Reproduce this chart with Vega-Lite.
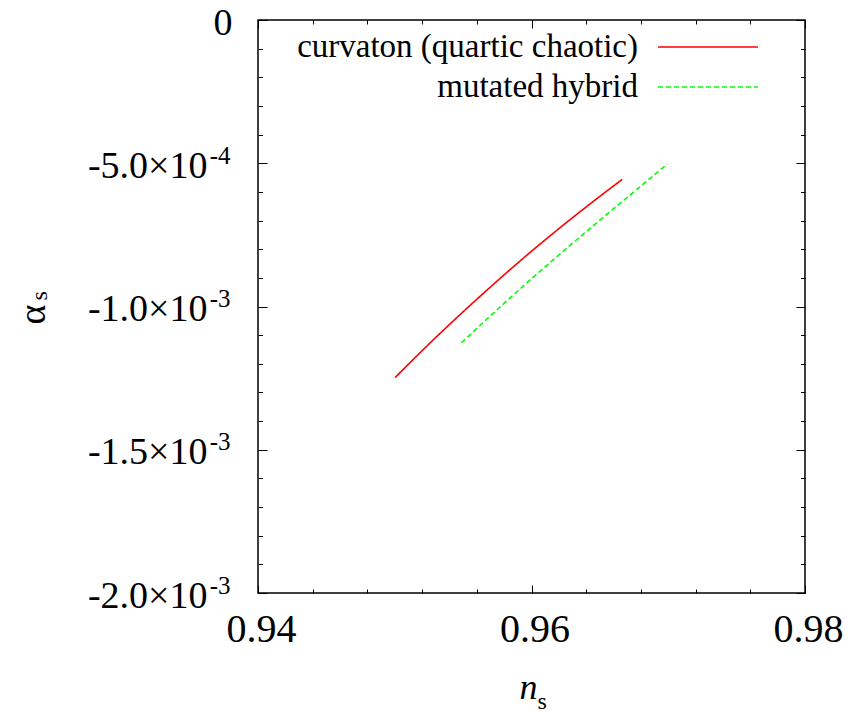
{
  "$schema": "https://vega.github.io/schema/vega-lite/v6.json",
  "width": 547,
  "height": 573,
  "autosize": {"type": "none"},
  "padding": {"left": 258, "top": 20, "right": 49, "bottom": 119},
  "background": "white",
  "config": {
    "view": {"stroke": "black", "strokeWidth": 1.5},
    "font": "Liberation Serif",
    "axis": {"grid": false, "domain": false, "tickColor": "black", "tickWidth": 1, "labelColor": "black", "titleColor": "black", "labelFont": "Liberation Serif", "titleFont": "Liberation Serif", "titleFontWeight": "normal", "labelFlush": false, "labelOverlap": false, "labelBound": false}
  },
  "datasets": {
    "curves": [
      {"model": "curvaton (quartic chaotic)", "ns": 0.95002, "alpha": -0.0012484},
      {"model": "curvaton (quartic chaotic)", "ns": 0.95233, "alpha": -0.0011389},
      {"model": "curvaton (quartic chaotic)", "ns": 0.95477, "alpha": -0.0010286},
      {"model": "curvaton (quartic chaotic)", "ns": 0.95721, "alpha": -0.00092286},
      {"model": "curvaton (quartic chaotic)", "ns": 0.95965, "alpha": -0.00082129},
      {"model": "curvaton (quartic chaotic)", "ns": 0.96208, "alpha": -0.00072518},
      {"model": "curvaton (quartic chaotic)", "ns": 0.96452, "alpha": -0.00063316},
      {"model": "curvaton (quartic chaotic)", "ns": 0.96664, "alpha": -0.00055613},
      {"model": "mutated hybrid", "ns": 0.95489, "alpha": -0.0011262},
      {"model": "mutated hybrid", "ns": 0.95745, "alpha": -0.0010126},
      {"model": "mutated hybrid", "ns": 0.95989, "alpha": -0.00090792},
      {"model": "mutated hybrid", "ns": 0.96233, "alpha": -0.0008067},
      {"model": "mutated hybrid", "ns": 0.96477, "alpha": -0.00070782},
      {"model": "mutated hybrid", "ns": 0.96745, "alpha": -0.00060157},
      {"model": "mutated hybrid", "ns": 0.96993, "alpha": -0.00050262}
    ]
  },
  "data": {"name": "curves"},
  "layer": [
    {
      "mark": {"type": "line", "strokeWidth": 1.6, "interpolate": "monotone"},
      "encoding": {
        "x": {
          "field": "ns", "type": "quantitative",
          "scale": {"domain": [0.94, 0.98], "nice": false, "zero": false},
          "axis": {
            "orient": "bottom",
            "values": [0.94, 0.944, 0.948, 0.952, 0.956, 0.96, 0.964, 0.968, 0.972, 0.976, 0.98],
            "labelExpr": "abs(datum.value-0.94)<1e-9 ? '0.94' : abs(datum.value-0.96)<1e-9 ? '0.96' : abs(datum.value-0.98)<1e-9 ? '0.98' : ''",
            "tickSize": {"condition": {"test": "abs(datum.value*50 - round(datum.value*50)) < 1e-6", "value": -8}, "value": -4},
            "labelFontSize": 40,
            "labelPadding": 24,
            "labelOffset": 3,
            "title": "n",
            "titleFontStyle": "italic",
            "titleFontSize": 36,
            "titleX": 270,
            "titleY": 105,
            "titleAlign": "center",
            "titleBaseline": "alphabetic"
          }
        },
        "y": {
          "field": "alpha", "type": "quantitative",
          "scale": {"domain": [-0.002, 0], "nice": false, "zero": false},
          "axis": {
            "orient": "left",
            "values": [0, -0.0001, -0.0002, -0.0003, -0.0004, -0.0005, -0.0006, -0.0007, -0.0008, -0.0009, -0.001, -0.0011, -0.0012, -0.0013, -0.0014, -0.0015, -0.0016, -0.0017, -0.0018, -0.0019, -0.002],
            "labelExpr": "abs(datum.value)<1e-9 ? '0' : abs(datum.value+0.0005)<1e-9 ? '-5.0×10' : abs(datum.value+0.001)<1e-9 ? '-1.0×10' : abs(datum.value+0.0015)<1e-9 ? '-1.5×10' : abs(datum.value+0.002)<1e-9 ? '-2.0×10' : ''",
            "tickSize": {"condition": {"test": "abs(datum.value*2000 - round(datum.value*2000)) < 1e-6", "value": -9}, "value": -4.5},
            "labelFontSize": 38,
            "labelPadding": {"condition": {"test": "abs(datum.value)<1e-9", "value": 35}, "value": 60},
            "labelOffset": 3,
            "labelAlign": "right",
            "labelBaseline": "middle",
            "title": "α",
            "titleFontSize": 38,
            "titleAngle": 270,
            "titleX": -214,
            "titleY": 294,
            "titleAlign": "center",
            "titleBaseline": "alphabetic"
          }
        },
        "color": {
          "field": "model", "type": "nominal",
          "scale": {"domain": ["curvaton (quartic chaotic)", "mutated hybrid"], "range": ["#ff0000", "#00ff00"]},
          "legend": {"title": null, "orient": "none", "legendX": 432.5, "legendY": 9.5, "symbolType": "M-3,0H3", "symbolSize": 1111.1, "symbolStrokeWidth": 1.5, "labelFont": "Liberation Serif", "labelFontSize": 33, "labelColor": "black", "labelAlign": "right", "labelOffset": -87.5, "labelLimit": 600, "rowPadding": 5, "padding": 0}
        },
        "strokeDash": {
          "field": "model", "type": "nominal",
          "scale": {"domain": ["curvaton (quartic chaotic)", "mutated hybrid"], "range": [[1, 0], [5, 3]]},
          "legend": {"title": null, "orient": "none", "legendX": 432.5, "legendY": 9.5, "symbolType": "M-3,0H3", "symbolSize": 1111.1, "symbolStrokeWidth": 1.5, "labelFont": "Liberation Serif", "labelFontSize": 33, "labelColor": "black", "labelAlign": "right", "labelOffset": -87.5, "labelLimit": 600, "rowPadding": 5, "padding": 0}
        }
      }
    },
    {
      "mark": {"type": "point", "opacity": 0},
      "encoding": {
        "x": {
          "field": "ns", "type": "quantitative",
          "axis": {
            "orient": "top",
            "values": [0.94, 0.944, 0.948, 0.952, 0.956, 0.96, 0.964, 0.968, 0.972, 0.976, 0.98],
            "labels": false,
            "tickSize": {"condition": {"test": "abs(datum.value*50 - round(datum.value*50)) < 1e-6", "value": -8}, "value": -4},
            "title": null
          }
        },
        "y": {
          "field": "alpha", "type": "quantitative",
          "axis": {
            "orient": "right",
            "values": [0, -0.0001, -0.0002, -0.0003, -0.0004, -0.0005, -0.0006, -0.0007, -0.0008, -0.0009, -0.001, -0.0011, -0.0012, -0.0013, -0.0014, -0.0015, -0.0016, -0.0017, -0.0018, -0.0019, -0.002],
            "labels": false,
            "tickSize": {"condition": {"test": "abs(datum.value*2000 - round(datum.value*2000)) < 1e-6", "value": -9}, "value": -4.5},
            "title": null
          }
        }
      }
    },
    {
      "mark": {"type": "point", "opacity": 0},
      "encoding": {
        "x": {
          "field": "ns", "type": "quantitative",
          "axis": {
            "orient": "bottom",
            "ticks": false,
            "labels": false,
            "title": "s",
            "titleFontSize": 24,
            "titleX": 279,
            "titleY": 115,
            "titleAlign": "left",
            "titleBaseline": "alphabetic"
          }
        },
        "y": {
          "field": "alpha", "type": "quantitative",
          "axis": {
            "orient": "left",
            "values": [-0.0005, -0.001, -0.0015, -0.002],
            "labelExpr": "abs(datum.value+0.0005)<1e-9 ? '-4' : '-3'",
            "ticks": false,
            "labelFontSize": 25,
            "labelPadding": 28,
            "labelOffset": -8,
            "labelAlign": "right",
            "labelBaseline": "middle",
            "title": "s",
            "titleFontSize": 24,
            "titleAngle": 270,
            "titleX": -212,
            "titleY": 280,
            "titleAlign": "left",
            "titleBaseline": "alphabetic"
          }
        }
      }
    }
  ],
  "resolve": {"axis": {"x": "independent", "y": "independent"}}
}
